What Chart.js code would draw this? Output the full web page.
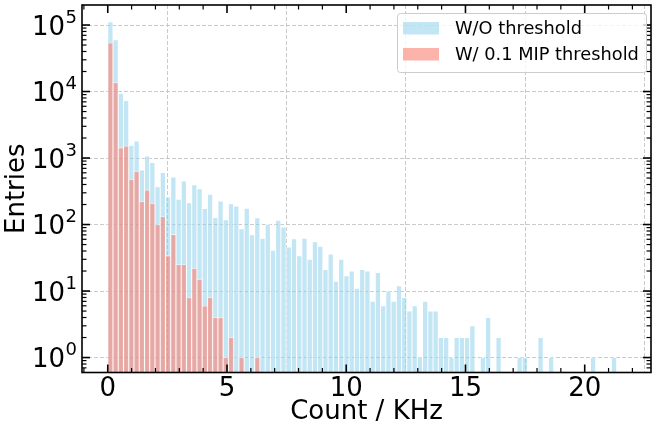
<!DOCTYPE html>
<html>
<head>
<meta charset="utf-8">
<script src="https://cdn.jsdelivr.net/npm/chart.js@4"></script>
<style>
  html, body { margin: 0; padding: 0; background: #fff; }
  #wrap { width: 659px; height: 434px; }
</style>
</head>
<body>
<div id="wrap"><canvas id="hist"></canvas></div>
<script>
// histogram bins: width in KHz, bin i covers [i*binWidth, (i+1)*binWidth)
const binWidth = 0.22;
const seriesNames = ['W/O threshold', 'W/ 0.1 MIP threshold'];
// entries per bin (0 = empty bin)
const noThreshold = [
  112000, 60000, 9450, 7300, 1550, 1800, 660, 1070, 855, 370,
  605, 260, 520, 240, 450, 212, 395, 344, 174, 286,
  127, 225, 118, 205, 189, 86, 176, 70, 126, 62,
  101, 41, 116, 92, 46, 61, 34, 62, 30, 55,
  47, 21, 36, 14, 30, 17, 20, 11, 21, 20,
  7, 19, 6, 10, 7, 12, 8, 5, 6, 1,
  7, 5, 5, 2, 2, 1, 2, 2, 2, 3,
  0, 1, 4, 0, 2, 0, 0, 0, 1, 1,
  0, 0, 2, 0, 1, 0, 0, 0, 0, 0,
  0, 0, 1, 0, 0, 0, 1
];
const mipThreshold = [
  54000, 13600, 1430, 1520, 480, 630, 222, 329, 209, 100,
  132, 34, 71, 25, 25, 8, 22, 15, 6, 8,
  4, 4, 1, 2, 0, 1, 0, 0, 1
];
const xTickValues = [0, 5, 10, 15, 20];
const yDecades = [1, 10, 100, 1000, 10000, 100000];

const FONT = "'DejaVu Sans', sans-serif";

function toPoints(counts) {
  const pts = [];
  counts.forEach((c, i) => {
    if (c > 0) pts.push({ x: (i + 0.5) * binWidth, y: c });
  });
  return pts;
}

const blueFill = 'rgba(135, 206, 235, 0.5)';
const redFill = 'rgba(250, 128, 114, 0.6)';

// inward ticks on all four sides, black frame, 10^n labels
const frameTicks = {
  id: 'frameTicks',
  afterDatasetsDraw(chart) {
    const { ctx, chartArea: a, scales: { x, y } } = chart;
    ctx.save();
    ctx.strokeStyle = '#000';
    const seg = (x1, y1, x2, y2) => {
      ctx.beginPath(); ctx.moveTo(x1, y1); ctx.lineTo(x2, y2); ctx.stroke();
    };
    for (let v = -1; v <= 23; v++) {
      const px = x.getPixelForValue(v);
      if (px < a.left + 1 || px > a.right - 1) continue;
      const major = v % 5 === 0;
      const len = major ? 8 : 4.5;
      ctx.lineWidth = major ? 1.6 : 1.2;
      seg(px, a.bottom, px, a.bottom - len);
      seg(px, a.top, px, a.top + len);
    }
    for (let e = -1; e <= 5; e++) {
      for (let m = 1; m < 10; m++) {
        const v = m * Math.pow(10, e);
        const py = y.getPixelForValue(v);
        if (py < a.top + 1 || py > a.bottom - 1) continue;
        const major = m === 1;
        const len = major ? 8 : 4.5;
        ctx.lineWidth = major ? 1.6 : 1.2;
        seg(a.left, py, a.left + len, py);
        seg(a.right, py, a.right - len, py);
      }
    }
    ctx.lineWidth = 1.6;
    ctx.strokeRect(a.left, a.top, a.right - a.left, a.bottom - a.top);

    // y tick labels as 10 with raised exponent
    ctx.fillStyle = '#000';
    ctx.textAlign = 'right';
    ctx.textBaseline = 'middle';
    const rightEdge = a.left - 5;
    yDecades.forEach(v => {
      const py = y.getPixelForValue(v);
      const exp = String(Math.round(Math.log10(v)));
      ctx.font = '18px ' + FONT;
      const ew = ctx.measureText(exp).width;
      ctx.fillText(exp, rightEdge, py - 7);
      ctx.font = '26px ' + FONT;
      ctx.fillText('10', rightEdge - ew - 0.5, py + 3);
    });
    ctx.restore();
  }
};

// matplotlib style legend in the upper right
const boxLegend = {
  id: 'boxLegend',
  afterDraw(chart) {
    const { ctx, chartArea: a } = chart;
    const lx = 397, ly = 13, w = a.right - 5 - lx, h = 59;
    ctx.save();
    ctx.fillStyle = 'rgba(255,255,255,0.8)';
    ctx.strokeStyle = '#cccccc';
    ctx.lineWidth = 1;
    ctx.beginPath();
    ctx.roundRect(lx + 0.5, ly + 0.5, w, h, 3);
    ctx.fill(); ctx.stroke();
    ctx.font = '17.8px ' + FONT;
    ctx.textBaseline = 'middle';
    chart.data.datasets.forEach((ds, i) => {
      const ry = ly + 15 + i * 26;
      ctx.fillStyle = ds.backgroundColor;
      ctx.fillRect(lx + 6, ry - 6, 36, 12.5);
      ctx.fillStyle = '#000';
      ctx.fillText(ds.label, lx + 58, ry + 1);
    });
    ctx.restore();
  }
};

new Chart(document.getElementById('hist'), {
  type: 'bar',
  data: {
    datasets: [
      {
        label: seriesNames[0],
        data: toPoints(noThreshold),
        backgroundColor: blueFill,
        borderColor: 'rgba(255,255,255,0.6)',
        borderWidth: 0.8,
        order: 2
      },
      {
        label: seriesNames[1],
        data: toPoints(mipThreshold),
        backgroundColor: redFill,
        borderColor: 'rgba(255,255,255,0.6)',
        borderWidth: 0.8,
        order: 1
      }
    ]
  },
  options: {
    responsive: true,
    maintainAspectRatio: false,
    animation: false,
    grouped: false,
    barPercentage: 1,
    categoryPercentage: 1,
    layout: { padding: { top: 5, right: 8, left: 0, bottom: 0 } },
    scales: {
      x: {
        type: 'linear',
        offset: false,
        min: -1.08,
        max: 22.78,
        afterFit(scale) { scale.height = 61.5; },
        afterBuildTicks(scale) {
          scale.ticks = xTickValues.map(v => ({ value: v }));
        },
        ticks: {
          font: { family: FONT, size: 26 },
          color: '#000',
          padding: 1,
          maxRotation: 0,
          callback: v => String(v)
        },
        grid: {
          drawTicks: false,
          color: '#c4c4c4',
          lineWidth: 0.9
        },
        border: { display: false, dash: [4, 2] },
        title: {
          display: true,
          text: 'Count / KHz',
          color: '#000',
          font: { family: FONT, size: 26 },
          padding: { top: 0, bottom: 6 }
        }
      },
      y: {
        type: 'logarithmic',
        min: 0.596,
        max: 200000,
        afterFit(scale) { scale.width = 82; },
        afterBuildTicks(scale) {
          scale.ticks = yDecades.map(v => ({ value: v }));
        },
        ticks: { display: false },
        grid: {
          drawTicks: false,
          color: '#c4c4c4',
          lineWidth: 0.9
        },
        border: { display: false, dash: [4, 2] },
        title: {
          display: true,
          text: 'Entries',
          color: '#000',
          font: { family: FONT, size: 26 },
          padding: { top: 2, bottom: 0 }
        }
      }
    },
    plugins: {
      legend: { display: false },
      tooltip: { enabled: false }
    }
  },
  plugins: [frameTicks, boxLegend]
});
</script>
</body>
</html>
